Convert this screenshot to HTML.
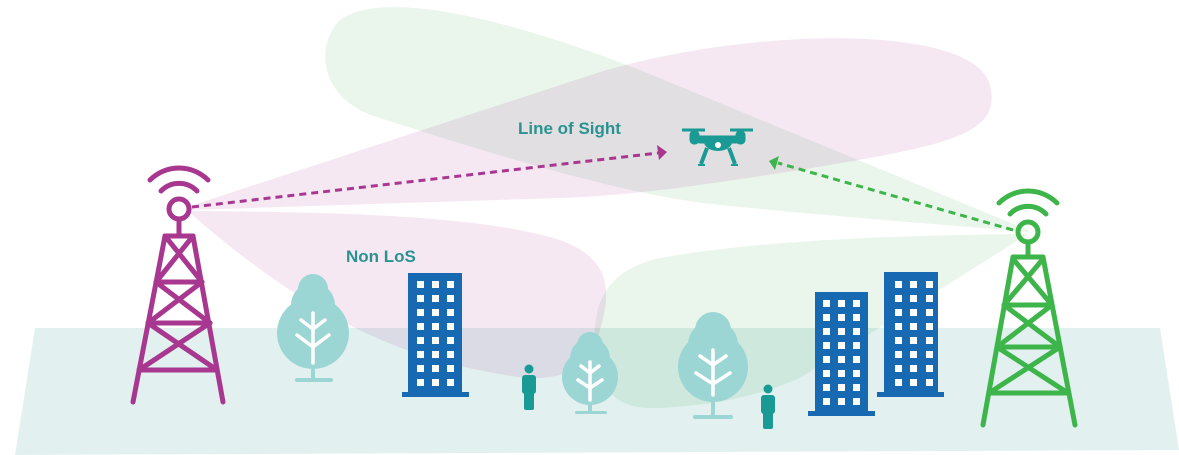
<!DOCTYPE html>
<html><head><meta charset="utf-8"><style>
html,body{margin:0;padding:0;background:#fff;width:1179px;height:455px;overflow:hidden}
svg{display:block}
text{font-family:"Liberation Sans",sans-serif;font-weight:bold;fill:#2a9391}
</style></head><body>
<svg width="1179" height="455" viewBox="0 0 1179 455" xmlns="http://www.w3.org/2000/svg">
<polygon points="35,328 1160,328 1179,450 15,455" fill="#e2f1f0"/>
<g style="mix-blend-mode:multiply">
<path d="M190,206 L600,72 C760,25 975,25 990,85 C1002,135 950,145 800,170 C700,185 640,195 560,198 L190,210 Z" fill="#f6e8f3" style="mix-blend-mode:multiply"/>
<path d="M190,211 C330,212 480,215 560,240 C610,258 612,290 600,330 C590,370 560,385 505,375 C420,360 330,335 190,213 Z" fill="#f6e8f3" style="mix-blend-mode:multiply"/>
<path d="M1028,230 L640,70 C500,15 380,-10 340,20 C315,45 318,100 380,118 C480,150 620,195 720,205 C850,218 950,225 1028,232 Z" fill="#eaf6ec" style="mix-blend-mode:multiply"/>
<path d="M1028,234 C900,235 760,240 660,258 C600,272 592,310 596,350 C600,395 620,410 660,408 C720,405 760,395 800,378 Z" fill="#eaf6ec" style="mix-blend-mode:multiply"/>
</g>
<g stroke="#a8378f" stroke-width="5" fill="none" stroke-linecap="round">
<circle cx="179" cy="209" r="10"/>
<line x1="179" y1="219" x2="179" y2="236"/>
<path d="M161,191 A25,25 0 0 1 197,191"/>
<path d="M150,180 A41,41 0 0 1 208,180"/>
<line x1="165" y1="236" x2="133" y2="402"/>
<line x1="193" y1="236" x2="223" y2="402"/>
<line x1="165" y1="236" x2="193" y2="236"/>
<line x1="156" y1="282" x2="202" y2="282"/>
<line x1="148" y1="323" x2="210" y2="323"/>
<line x1="139" y1="370" x2="217" y2="370"/>
<path d="M165,236 L202,282 M193,236 L156,282 M156,282 L210,323 M202,282 L148,323 M148,323 L217,370 M210,323 L139,370"/>
</g>
<g stroke="#3db54a" stroke-width="5" fill="none" stroke-linecap="round">
<circle cx="1028" cy="232" r="10"/>
<line x1="1028" y1="242" x2="1028" y2="257"/>
<path d="M1010,214 A25,25 0 0 1 1046,214"/>
<path d="M999,203 A41,41 0 0 1 1057,203"/>
<line x1="1013" y1="257" x2="983" y2="425"/>
<line x1="1043" y1="257" x2="1075" y2="425"/>
<line x1="1013" y1="257" x2="1043" y2="257"/>
<line x1="1004" y1="305" x2="1052" y2="305"/>
<line x1="997" y1="347" x2="1060" y2="347"/>
<line x1="989" y1="393" x2="1068" y2="393"/>
<path d="M1013,259 L1052,305 M1043,259 L1004,305 M1004,305 L1060,347 M1052,305 L997,347 M997,347 L1068,393 M1060,347 L989,393"/>
</g>
<line x1="192" y1="207" x2="658" y2="153" stroke="#a8378f" stroke-width="3" stroke-dasharray="7,5"/>
<polygon points="667,152 657,145 659,160" fill="#a8378f"/>
<line x1="1013" y1="230" x2="778" y2="163" stroke="#3db54a" stroke-width="3" stroke-dasharray="7,5"/>
<polygon points="769,161 779,156 775,170" fill="#3db54a"/>
<g fill="#1a9a94" stroke="#1a9a94">
<line x1="682" y1="130" x2="705" y2="130" stroke-width="3"/>
<line x1="730" y1="130" x2="753" y2="130" stroke-width="3"/>
<rect x="690" y="131" width="9" height="13" rx="4"/>
<rect x="736" y="131" width="9" height="13" rx="4"/>
<rect x="697" y="136" width="42" height="7" rx="3"/>
<path d="M704,140 L732,140 C732,154 704,154 704,140 Z"/>
<path d="M707,148 L701,164 M729,148 L735,164" stroke-width="4" fill="none"/>
<line x1="698" y1="165" x2="705" y2="165" stroke-width="2"/>
<line x1="731" y1="165" x2="738" y2="165" stroke-width="2"/>
<circle cx="718" cy="145" r="3" fill="#fff" stroke="none"/>
</g>
<text x="518" y="134" font-size="17">Line of Sight</text>
<text x="346" y="262" font-size="17">Non LoS</text>
<g fill="#9bd6d4">
<circle cx="313" cy="289" r="15"/><circle cx="313" cy="305" r="22"/><circle cx="313" cy="333" r="36"/>
<rect x="311" y="350" width="4" height="30"/><rect x="295" y="378" width="38" height="4" rx="2"/>
<circle cx="590" cy="345" r="13"/><circle cx="590" cy="358" r="20"/><circle cx="590" cy="377" r="28"/>
<rect x="588" y="395" width="4" height="18"/><rect x="575" y="411" width="32" height="3" rx="1.5"/>
<circle cx="713" cy="330" r="18"/><circle cx="713" cy="345" r="25"/><circle cx="713" cy="367" r="35"/>
<rect x="711" y="390" width="4" height="28"/><rect x="693" y="415" width="40" height="4" rx="2"/>
</g>
<g stroke="#fff" stroke-width="3.5" fill="none" stroke-linecap="round">
<path d="M313,313 V363 M301,320 L313,329 L325,320 M297,335 L313,347 L329,335"/>
<path d="M590,362 V400 M581,366 L590,373 L599,366 M578,380 L590,388 L602,380"/>
<path d="M713,350 V395 M700,356 L713,365 L726,356 M696,373 L713,384 L730,373"/>
</g>
<g fill="#1a9a94">
<circle cx="529" cy="369" r="4.5"/><rect x="522" y="375" width="14" height="19" rx="3"/><rect x="524" y="388" width="10" height="22" rx="2"/>
<circle cx="768" cy="389" r="4.5"/><rect x="761" y="395" width="14" height="19" rx="3"/><rect x="763" y="408" width="10" height="21" rx="2"/>
</g>
<g fill="#1769b1">
<rect x="408" y="273" width="54" height="122"/><rect x="402" y="392" width="67" height="5"/>
<rect x="815" y="292" width="53" height="122"/><rect x="808" y="411" width="67" height="5"/>
<rect x="884" y="272" width="54" height="123"/><rect x="877" y="392" width="67" height="5"/>
</g>
<g fill="#fff">
<g id="col1"><rect x="417" y="281" width="7" height="7"/><rect x="417" y="295" width="7" height="7"/><rect x="417" y="309" width="7" height="7"/><rect x="417" y="323" width="7" height="7"/><rect x="417" y="337" width="7" height="7"/><rect x="417" y="351" width="7" height="7"/><rect x="417" y="365" width="7" height="7"/><rect x="417" y="379" width="7" height="7"/></g>
<use href="#col1" x="15"/><use href="#col1" x="30"/>
<g id="col2"><rect x="823" y="300" width="7" height="7"/><rect x="823" y="314" width="7" height="7"/><rect x="823" y="328" width="7" height="7"/><rect x="823" y="342" width="7" height="7"/><rect x="823" y="356" width="7" height="7"/><rect x="823" y="370" width="7" height="7"/><rect x="823" y="384" width="7" height="7"/><rect x="823" y="398" width="7" height="7"/></g>
<use href="#col2" x="15"/><use href="#col2" x="30"/>
<g id="col3"><rect x="895" y="281" width="7" height="7"/><rect x="895" y="295" width="7" height="7"/><rect x="895" y="309" width="7" height="7"/><rect x="895" y="323" width="7" height="7"/><rect x="895" y="337" width="7" height="7"/><rect x="895" y="351" width="7" height="7"/><rect x="895" y="365" width="7" height="7"/><rect x="895" y="379" width="7" height="7"/></g>
<use href="#col3" x="15"/><use href="#col3" x="31"/>
</g>
</svg>
</body></html>
